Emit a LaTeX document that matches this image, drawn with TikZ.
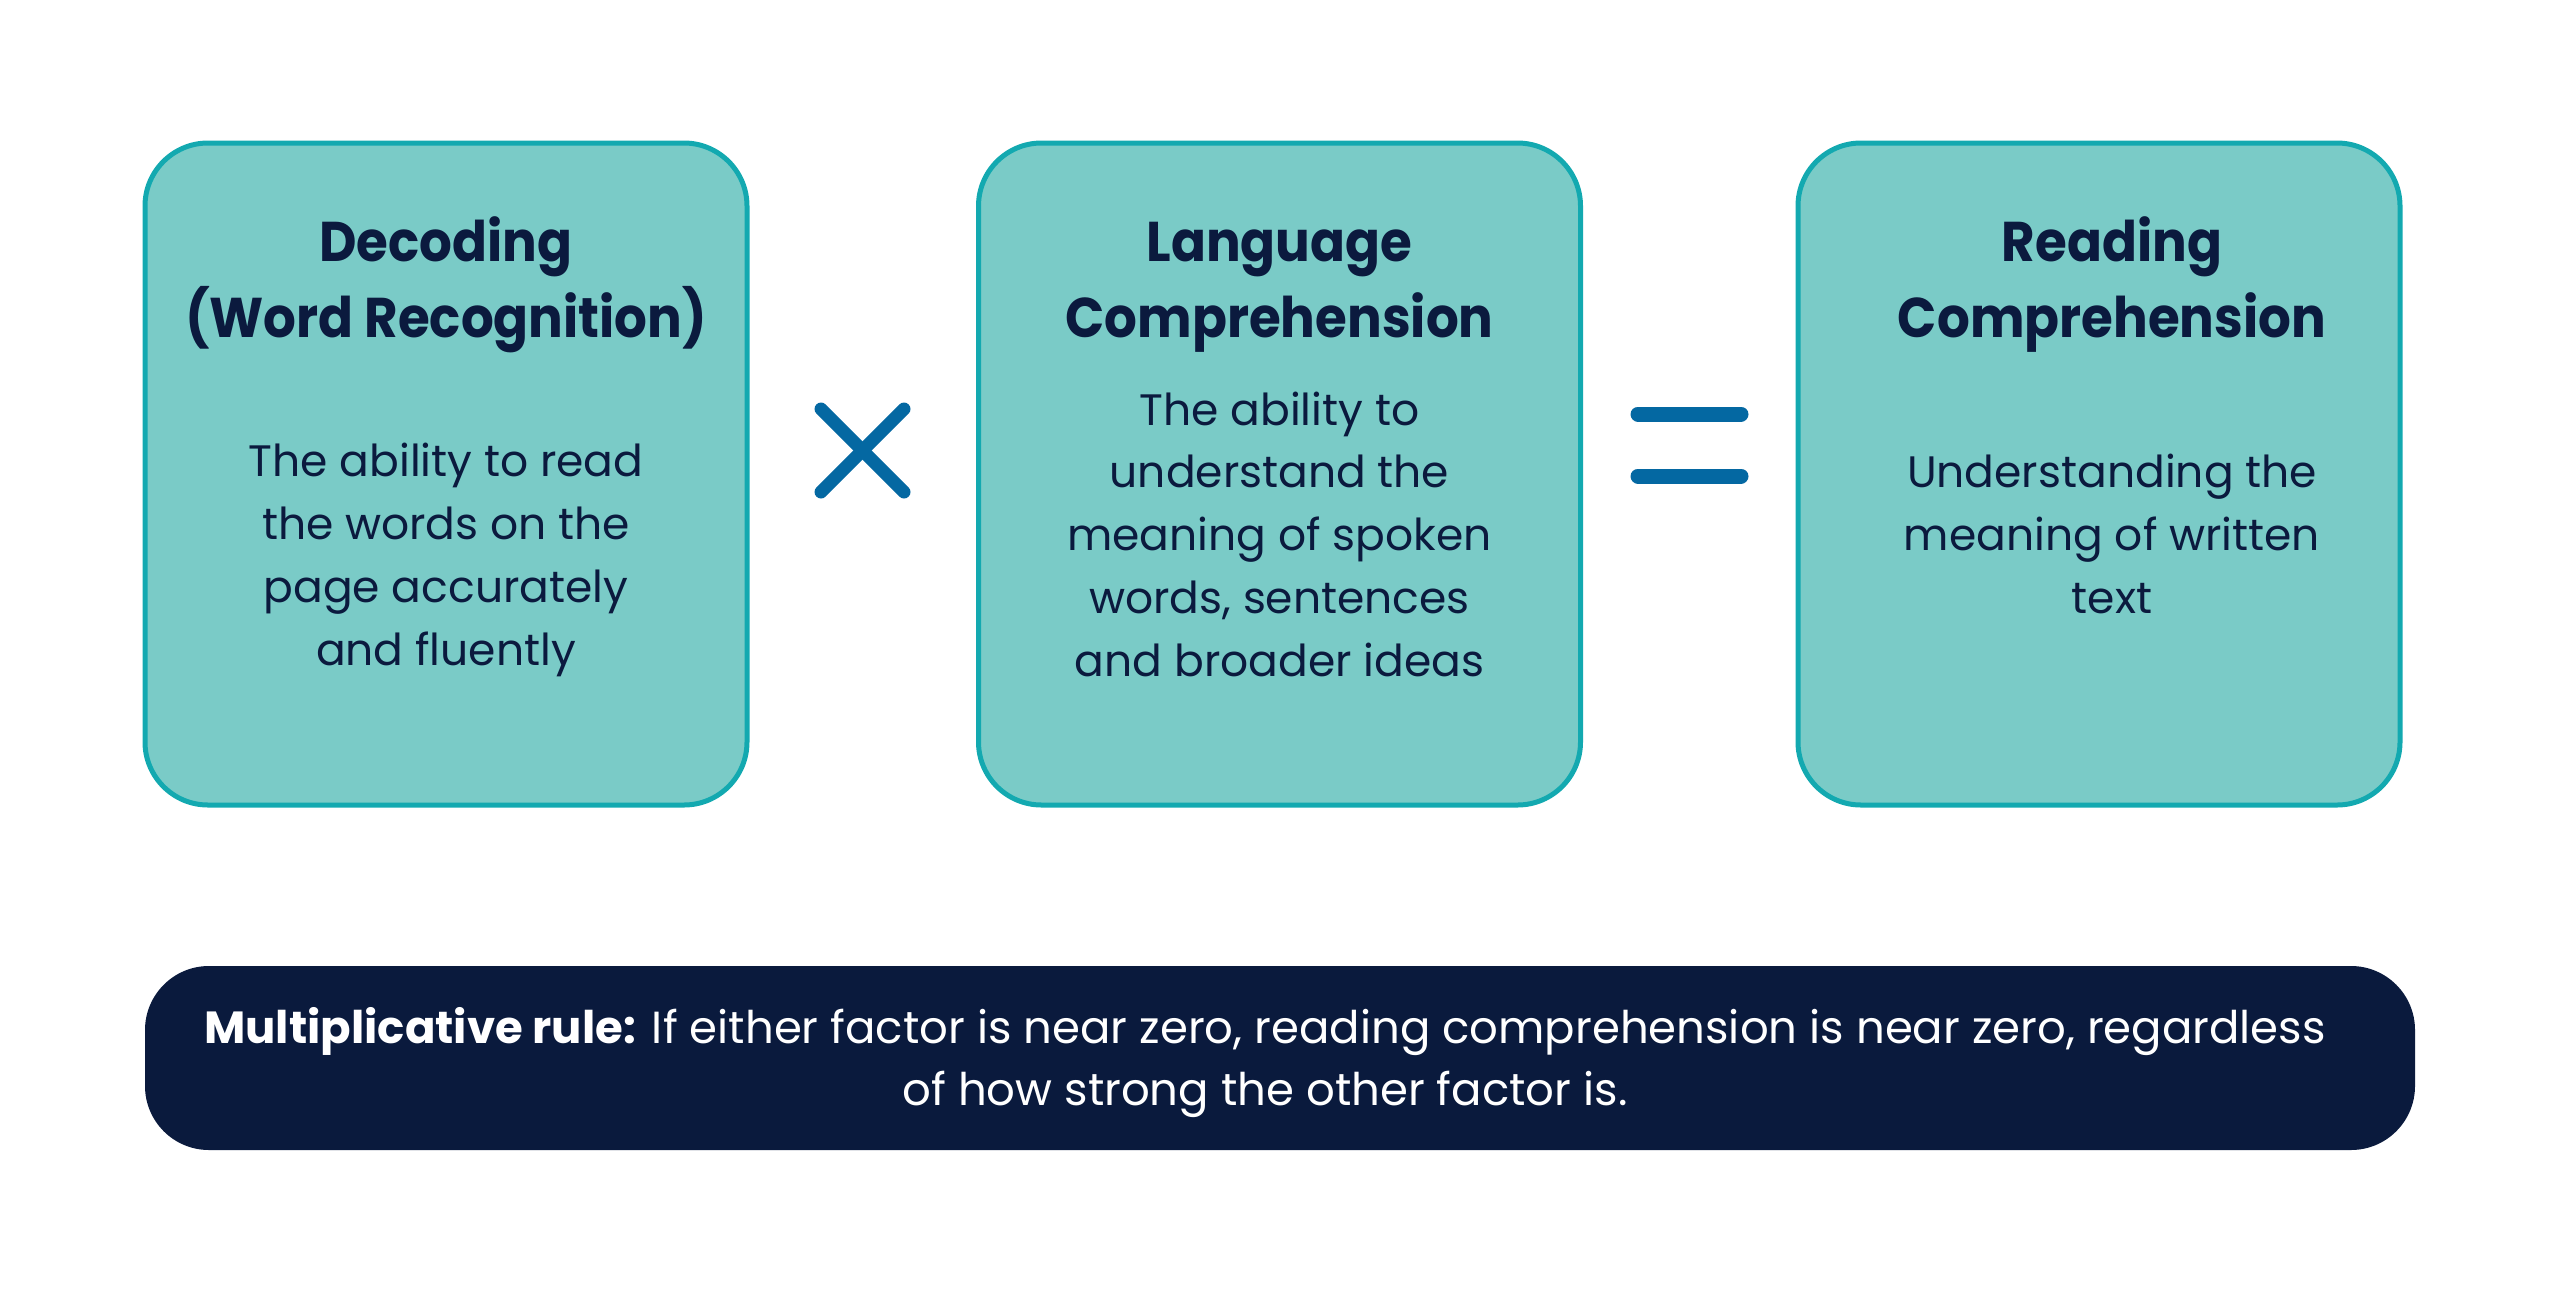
\documentclass[tikz,border=0pt]{standalone}
\usepackage{fontspec}
\setmainfont{Poppins}
\newfontfamily\titlefont{Poppins}[FakeStretch=0.92]
\definecolor{boxfill}{HTML}{7ACBC7}
\definecolor{boxline}{HTML}{13A9B0}
\definecolor{ink}{HTML}{0B1A3E}
\definecolor{navy}{HTML}{0A1A3D}
\definecolor{symb}{HTML}{0468A2}
\tikzset{
  card/.style={draw=boxline, line width=5pt, fill=boxfill, rounded corners=63pt,
    minimum width=602pt, minimum height=662pt, inner sep=0pt},
  cardtitle/.style={anchor=base, align=center, inner sep=0pt, text=ink,
    font=\titlefont\fontsize{56}{76}\selectfont\bfseries},
  cardbody/.style={anchor=base, align=center, inner sep=0pt, text=ink,
    font=\fontsize{44}{62.7}\selectfont},
  rulebar/.style={fill=navy, rounded corners=64pt, minimum width=2270pt,
    minimum height=184pt, inner sep=0pt},
  ruletext/.style={anchor=base, align=center, inner sep=0pt, text=white,
    font=\fontsize{45}{62}\selectfont},
  opstroke/.style={draw=symb, line cap=round},
}
\begin{document}
\begin{tikzpicture}[x=1pt, y=-1pt]
\useasboundingbox (0,0) rectangle (2560,1294);
% cards
\node[card] (b1) at (446,474) {};
\node[card] (b2) at (1279.5,474) {};
\node[card] (b3) at (2099,474) {};
% titles (anchor = baseline of the last line)
\node[cardtitle] (t1) at (446,337) {Decoding\\(Word Recognition)};
\node[cardtitle] (t2) at (1279.5,337) {Language\\Comprehension};
\node[cardtitle] (t3) at (2112,337) {Reading\\Comprehension};
% bodies (anchor = baseline of the last line)
\node[cardbody] (d1) at (446,665) {The ability to read\\the words on the\\page accurately\\and fluently};
\node[cardbody] (d2) at (1279.5,676) {The ability to\\understand the\\meaning of spoken\\words, sentences\\and broader ideas};
\node[cardbody] (d3) at (2112,613) {Understanding the\\meaning of written\\text};
% times sign
\draw[opstroke, line width=13pt] (821,409) -- (904,492);
\draw[opstroke, line width=13pt] (821,492) -- (904,409);
% equals sign
\draw[opstroke, line width=15pt] (1638,414) -- (1741,414);
\draw[opstroke, line width=15pt] (1638,476) -- (1741,476);
% rule bar
\node[rulebar] (bar) at (1280,1058) {};
\node[ruletext] (rt) at (1265,1105) {\textbf{Multiplicative rule:} If either factor is near zero, reading comprehension is near zero, regardless\\of how strong the other factor is.};
\end{tikzpicture}
\end{document}
